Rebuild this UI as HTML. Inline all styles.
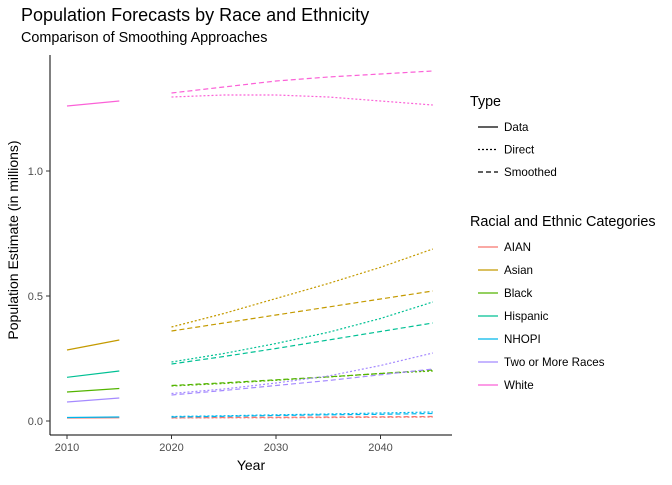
<!DOCTYPE html>
<html><head><meta charset="utf-8"><style>
body{margin:0;background:#fff}
svg{font-family:"Liberation Sans",sans-serif}
</style></head><body>
<svg id="c" width="672" height="480">
<text x="21" y="21" font-size="18" fill="#000">Population Forecasts by Race and Ethnicity</text>
<text x="21" y="42" font-size="14.4" fill="#000">Comparison of Smoothing Approaches</text>
<text transform="translate(18,240) rotate(-90)" text-anchor="middle" font-size="14">Population Estimate (in millions)</text>
<text x="251" y="470" text-anchor="middle" font-size="14">Year</text>
<line x1="50" y1="55" x2="50" y2="435" stroke="#000" stroke-width="1"/>
<line x1="50" y1="435" x2="452" y2="435" stroke="#000" stroke-width="1"/>
<g id="marks"></g>
<g id="ticks"></g>
<g id="legend"></g>
</svg>
<script>
const years=[2020,2025,2030,2035,2040,2045];
const dataYears=[2010,2015];
const groups=["AIAN","Asian","Black","Hispanic","NHOPI","Two or More Races","White"];
const colors=["#F8766D","#C49A00","#53B400","#00C094","#00B6EB","#A58AFF","#FB61D7"];
const obsAIAN=[0.012,0.013],obsAsian=[0.284,0.324],obsBlack=[0.116,0.13],obsHisp=[0.175,0.2],obsNHOPI=[0.014,0.016],obsTwo=[0.076,0.092],obsWhite=[1.26,1.28];
const dirAIAN=[0.012,0.013,0.013,0.014,0.015,0.016];
const dirAsian=[0.376,0.43,0.49,0.55,0.615,0.688];
const dirBlack=[0.14,0.15,0.163,0.176,0.19,0.2];
const dirHisp=[0.236,0.27,0.31,0.355,0.41,0.476];
const dirNHOPI=[0.018,0.021,0.025,0.028,0.032,0.036];
const dirTwo=[0.11,0.128,0.152,0.18,0.222,0.272];
const dirWhite=[1.296,1.304,1.304,1.296,1.28,1.264];
const smAIAN=[0.013,0.014,0.015,0.016,0.017,0.018];
const smAsian=[0.36,0.392,0.424,0.456,0.488,0.52];
const smBlack=[0.142,0.153,0.165,0.177,0.19,0.204];
const smHisp=[0.228,0.258,0.29,0.324,0.358,0.392];
const smNHOPI=[0.016,0.019,0.022,0.025,0.027,0.03];
const smTwo=[0.104,0.122,0.142,0.162,0.185,0.208];
const smWhite=[1.312,1.336,1.36,1.376,1.388,1.40];
const xTicks=[2010,2020,2030,2040];
const yTicks=[0,0.5,1.0];
const yTickLabels=["0.0","0.5","1.0"];
const typeLabels=["Data","Direct","Smoothed"];
const typeDash=["none","2,2","5,3"];

const X=y=>67+(y-2010)*10.45;
const Y=v=>421-v*250;
const NS="http://www.w3.org/2000/svg";
function mk(t,a,p){const e=document.createElementNS(NS,t);for(const k in a)e.setAttribute(k,a[k]);p.appendChild(e);return e;}
const marks=document.getElementById('marks');
const obs=[obsAIAN,obsAsian,obsBlack,obsHisp,obsNHOPI,obsTwo,obsWhite];
const dir=[dirAIAN,dirAsian,dirBlack,dirHisp,dirNHOPI,dirTwo,dirWhite];
const sm=[smAIAN,smAsian,smBlack,smHisp,smNHOPI,smTwo,smWhite];
function line(xs,vs,col,dash,name){
  const pts=xs.map((x,i)=>X(x).toFixed(1)+","+Y(vs[i]).toFixed(1)).join(" ");
  const e=mk('polyline',{points:pts,fill:"none",stroke:col,"stroke-width":1.2,"stroke-dasharray":dash},marks);
  
  
}
groups.forEach((g,i)=>{
  const n=g.toLowerCase().replace(/ /g,'-');
  line(dataYears,obs[i],colors[i],"none",n+"-data-line");
  line(years,dir[i],colors[i],"2,2",n+"-direct-line");
  line(years,sm[i],colors[i],"5,3",n+"-smoothed-line");
});
const tk=document.getElementById('ticks');
xTicks.forEach(t=>{
  const l=mk('line',{x1:X(t),x2:X(t),y1:435,y2:439,stroke:"#333"},tk);
  
  
  const s=mk('text',{x:X(t),y:451,"text-anchor":"middle","font-size":11,fill:"#4d4d4d"},tk);s.textContent=t;
  
  
});
yTicks.forEach((t,i)=>{
  const l=mk('line',{x1:46,x2:50,y1:Y(t),y2:Y(t),stroke:"#333"},tk);
  
  
  const s=mk('text',{x:43,y:Y(t)+4,"text-anchor":"end","font-size":11,fill:"#4d4d4d"},tk);s.textContent=yTickLabels[i];
  
  
});
const lg=document.getElementById('legend');
let t1=mk('text',{x:470,y:106,"font-size":14.3},lg);t1.textContent="Type";


typeLabels.forEach((lab,i)=>{
  const y=127+i*22.5;
  const l=mk('line',{x1:478,x2:498,y1:y,y2:y,stroke:"#000","stroke-width":1.2,"stroke-dasharray":typeDash[i]},lg);
  
  
  const s=mk('text',{x:504,y:y+4,"font-size":11.6},lg);s.textContent=lab;
  
  
});
let t2=mk('text',{x:470,y:226,"font-size":14.4},lg);t2.textContent="Racial and Ethnic Categories";


groups.forEach((g,i)=>{
  const y=247+i*23;
  const l=mk('line',{x1:478,x2:498,y1:y,y2:y,stroke:colors[i],"stroke-width":1.2},lg);
  
  
  const s=mk('text',{x:504,y:y+4,"font-size":11.6},lg);s.textContent=g;
  
  
});
</script>
</body></html>
